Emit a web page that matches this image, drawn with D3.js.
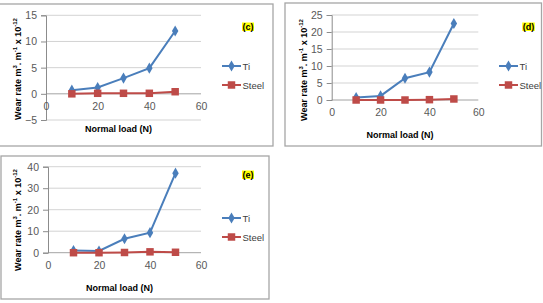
<!DOCTYPE html>
<html>
<head>
<meta charset="utf-8">
<script src="https://cdn.jsdelivr.net/npm/d3@7"></script>
<style>
  body { margin: 0; background: #fff; }
  svg { display: block; font-family: "Liberation Sans", Arial, sans-serif; }
</style>
</head>
<body>
<svg id="wear" width="543" height="303"></svg>
<script>
"use strict";

// data
const loads = [10, 20, 30, 40, 50];
const tiC = [0.7, 1.2, 3.0, 4.9, 12.0];
const steelC = [0.0, 0.1, 0.1, 0.1, 0.4];
const tiD = [0.7, 1.2, 6.4, 8.2, 22.5];
const steelD = [0.0, 0.0, 0.0, 0.1, 0.3];
const tiE = [1.0, 0.8, 6.5, 9.3, 37.0];
const steelE = [0.0, 0.0, 0.1, 0.4, 0.2];
const xTicks = [0, 20, 40, 60];
const yTicksC = [-5, 0, 5, 10, 15];
const yTicksD = [0, 5, 10, 15, 20, 25];
const yTicksE = [0, 10, 20, 30, 40];
const seriesNames = ['Ti', 'Steel'];

const tiColour = '#4a7ebb';
const steelColour = '#be4b48';

let svg = d3.select('svg#wear');

let panels = [
  {tag: '(c)', ti: tiC, steel: steelC, yTicks: yTicksC,
   frame: {x0: -1, x1: 273, y0: 4, y1: 146},
   plot: {x0: 46, x1: 201, y0: 120, y1: 15.3},
   legend: {x: 222, y: 66}, tagPos: {x: 248, y: 26}, yTitle: {x: 18, y: 69}},
  {tag: '(d)', ti: tiD, steel: steelD, yTicks: yTicksD,
   frame: {x0: 285, x1: 541.5, y0: 3, y1: 146},
   plot: {x0: 331.7, x1: 478.3, y0: 100, y1: 15},
   legend: {x: 499, y: 66}, tagPos: {x: 528.5, y: 26}, yTitle: {x: 304, y: 70}},
  {tag: '(e)', ti: tiE, steel: steelE, yTicks: yTicksE,
   frame: {x0: 1, x1: 269, y0: 156, y1: 299},
   plot: {x0: 48, x1: 201, y0: 252.7, y1: 166.7},
   legend: {x: 222, y: 218}, tagPos: {x: 248, y: 174}, yTitle: {x: 18, y: 220}}
];

function drawPanel(p) {
  let g = svg.append('g');

  /* frame round each chart */
  g.append('rect')
   .attr('x', p.frame.x0).attr('y', p.frame.y0)
   .attr('width', p.frame.x1 - p.frame.x0)
   .attr('height', p.frame.y1 - p.frame.y0)
   .attr('fill', 'none')
   .attr('stroke', '#a6a6a6')
   .attr('stroke-width', 1.3);

  let x = d3.scaleLinear().domain([0, 60]).range([p.plot.x0, p.plot.x1]);
  let yMin = d3.min(p.yTicks), yMax = d3.max(p.yTicks);
  let y = d3.scaleLinear().domain([yMin, yMax]).range([p.plot.y0, p.plot.y1]);

  /* gridlines */
  g.selectAll('line.grid')
   .data(p.yTicks)
   .enter()
   .append('line')
   .attr('class', 'grid')
   .attr('x1', x(0)).attr('x2', x(60))
   .attr('y1', d => y(d)).attr('y2', d => y(d))
   .attr('stroke', d => d === 0 ? '#8c8c8c' : '#c8c8c8')
   .attr('stroke-width', 0.8);

  /* y axis */
  let yAxis = d3.axisLeft(y).tickValues(p.yTicks).tickSize(5).tickPadding(4);
  let ya = g.append('g')
   .attr('transform', `translate(${x(0)},0)`)
   .call(yAxis);
  ya.select('.domain').attr('stroke', '#8c8c8c');
  ya.selectAll('.tick line').attr('stroke', '#8c8c8c');
  ya.selectAll('.tick text')
    .attr('fill', '#595959')
    .style('font-size', '10.5px')
    .style('font-family', '"Liberation Sans", Arial, sans-serif');

  /* x axis sits on zero, labels below */
  let xAxis = d3.axisBottom(x).tickValues(xTicks).tickSize(0).tickPadding(9);
  let xa = g.append('g')
   .attr('transform', `translate(0,${y(0)})`)
   .call(xAxis);
  xa.select('.domain').remove();
  xa.selectAll('.tick text')
    .attr('fill', '#595959')
    .style('font-size', '10.5px')
    .style('font-family', '"Liberation Sans", Arial, sans-serif');

  /* axis titles */
  g.append('text')
   .attr('text-anchor', 'middle')
   .attr('x', (p.plot.x0 + p.plot.x1) / 2 - 5)
   .attr('y', y(0) + 38)
   .style('font-size', '9px')
   .style('font-weight', 'bold')
   .text('Normal load (N)');

  let yt = g.append('text')
   .attr('text-anchor', 'middle')
   .attr('transform', `translate(${p.yTitle.x + 3},${p.yTitle.y}) rotate(-90)`)
   .style('font-size', '9px')
   .style('font-weight', 'bold');
  yt.append('tspan').text('Wear rate m');
  yt.append('tspan').attr('dy', -4).style('font-size', '6px').text('3');
  yt.append('tspan').attr('dy', 4).text('. m');
  yt.append('tspan').attr('dy', -4).style('font-size', '6px').text('-1');
  yt.append('tspan').attr('dy', 4).text(' x 10');
  yt.append('tspan').attr('dy', -4).style('font-size', '6px').text('-12');

  /* lines */
  let line = d3.line().x((d, i) => x(loads[i])).y(d => y(d));
  let series = [
    {name: seriesNames[0], values: p.ti, colour: tiColour, marker: d3.symbolDiamond, size: 36},
    {name: seriesNames[1], values: p.steel, colour: steelColour, marker: d3.symbolSquare, size: 56}
  ];
  for (let s of series) {
    g.append('path')
     .attr('d', line(s.values))
     .attr('fill', 'none')
     .attr('stroke', s.colour)
     .attr('stroke-width', 2);
    g.selectAll(null)
     .data(s.values)
     .enter()
     .append('path')
     .attr('d', d3.symbol().type(s.marker).size(s.size))
     .attr('transform', (d, i) => `translate(${x(loads[i])},${y(d)})`)
     .attr('fill', s.colour);
  }

  /* legend */
  series.forEach((s, i) => {
    let ly = p.legend.y + i * 19;
    g.append('line')
     .attr('x1', p.legend.x).attr('x2', p.legend.x + 19)
     .attr('y1', ly).attr('y2', ly)
     .attr('stroke', s.colour)
     .attr('stroke-width', 2);
    g.append('path')
     .attr('d', d3.symbol().type(s.marker).size(s.size))
     .attr('transform', `translate(${p.legend.x + 9.5},${ly})`)
     .attr('fill', s.colour);
    g.append('text')
     .attr('x', p.legend.x + 20.5)
     .attr('y', ly + 3.5)
     .attr('fill', '#404040')
     .style('font-size', '9.5px')
     .text(s.name);
  });

  /* panel tag with yellow highlight */
  let tag = g.append('text')
   .attr('text-anchor', 'middle')
   .attr('x', p.tagPos.x)
   .attr('y', p.tagPos.y + 3.5)
   .style('font-size', '9px')
   .style('font-weight', 'bold')
   .text(p.tag);
  let bb = tag.node().getBBox();
  g.insert('rect', () => tag.node())
   .attr('x', bb.x - 0.5).attr('y', bb.y + 1)
   .attr('width', bb.width + 1).attr('height', bb.height - 1.5)
   .attr('fill', '#ffff00');
}

panels.forEach(drawPanel);
</script>
</body>
</html>
